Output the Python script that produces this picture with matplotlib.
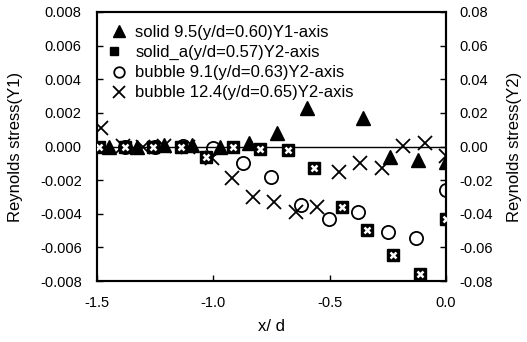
import matplotlib
matplotlib.use("Agg")
import matplotlib.pyplot as plt
from matplotlib.ticker import FormatStrFormatter, MultipleLocator
from matplotlib.legend_handler import HandlerTuple

plt.rcParams["font.family"] = ["Liberation Sans", "DejaVu Sans"]

# solid 9.5 (Y1 axis)
tri_x = [-1.45, -1.33, -1.21, -1.09, -0.97, -0.847, -0.726, -0.598, -0.357, -0.241, -0.12, 0.0]
tri_y = [0.0, 0.0, 0.0001, 0.0001, 0.0, 0.0002, 0.0008, 0.0023, 0.0017, -0.00065, -0.0008, -0.0009]

# solid_a (Y2 axis)
sq_x = [-1.49, -1.38, -1.26, -1.14, -1.03, -0.916, -0.80, -0.68, -0.567, -0.447, -0.34, -0.228, -0.112, 0.0]
sq_y = [-0.0003, 0.0, -0.0002, -0.0002, -0.006, 0.0, -0.0015, -0.002, -0.013, -0.036, -0.0496, -0.0645, -0.0758, -0.043]

# bubble 9.1 (Y2 axis)
ci_x = [-1.38, -1.25, -1.13, -1.0, -0.873, -0.752, -0.623, -0.503, -0.378, -0.25, -0.129, 0.0]
ci_y = [0.0, 0.0, 0.0005, -0.0006, -0.0095, -0.018, -0.0346, -0.043, -0.039, -0.0507, -0.0543, -0.0257]

# bubble 12.4 (Y2 axis)
cr_x = [-1.483, -1.39, -1.30, -1.21, -1.11, -1.006, -0.92, -0.83, -0.74, -0.645, -0.555, -0.46, -0.37, -0.275, -0.185, -0.09, 0.0]
cr_y = [0.011, 0.0005, 0.0, 0.0005, 0.0, -0.0066, -0.0185, -0.030, -0.033, -0.039, -0.036, -0.015, -0.010, -0.0125, 0.0006, 0.002, -0.0055]

fig = plt.figure(figsize=(5.27, 3.42), dpi=100)
ax = fig.add_axes([0.184, 0.178, 0.662, 0.787])
ax2 = ax.twinx()

ax.axhline(0, color="black", lw=1.0, zorder=1)

h_tri, = ax.plot(tri_x, tri_y, "^", color="black", ms=10, ls="none", zorder=3)
h_sq1, = ax2.plot(sq_x, sq_y, "s", color="black", ms=8, ls="none", zorder=3)
h_sq2, = ax2.plot(sq_x, sq_y, "x", color="white", ms=4.5, mew=1.8, ls="none", zorder=4)
h_ci, = ax2.plot(ci_x, ci_y, "o", mfc="none", mec="black", mew=1.3, ms=9.5, ls="none", zorder=3)
h_cr, = ax2.plot(cr_x, cr_y, "x", color="black", mew=1.3, ms=10, ls="none", zorder=3)

ax.set_xlim(-1.5, 0.0)
ax.set_ylim(-0.008, 0.008)
ax2.set_ylim(-0.08, 0.08)
ax.xaxis.set_major_locator(MultipleLocator(0.5))
ax.yaxis.set_major_locator(MultipleLocator(0.002))
ax2.yaxis.set_major_locator(MultipleLocator(0.02))
ax.xaxis.set_major_formatter(FormatStrFormatter("%.1f"))
ax.yaxis.set_major_formatter(FormatStrFormatter("%.3f"))
ax2.yaxis.set_major_formatter(FormatStrFormatter("%.2f"))

ax.tick_params(axis="y", direction="in", labelsize=10.5, length=4, width=1, pad=11)
ax.tick_params(axis="x", direction="in", labelsize=10.5, length=4, width=1, pad=11)
ax2.tick_params(direction="in", labelsize=10.5, length=4, width=1, pad=10)
for a in (ax, ax2):
    for s in a.spines.values():
        s.set_linewidth(1.5)

ax.set_xlabel("x/ d", fontsize=12, labelpad=6)
ax.set_ylabel("Reynolds stress(Y1)", fontsize=12, labelpad=12)
ax2.set_ylabel("Reynolds stress(Y2)", fontsize=12, labelpad=10)

ax2.legend([h_tri, (h_sq1, h_sq2), h_ci, h_cr],
           ["solid 9.5(y/d=0.60)Y1-axis", "solid_a(y/d=0.57)Y2-axis",
            "bubble 9.1(y/d=0.63)Y2-axis", "bubble 12.4(y/d=0.65)Y2-axis"],
           handler_map={tuple: HandlerTuple(ndivide=None, pad=0)},
           loc="upper left", frameon=False, fontsize=12, handlelength=1.0,
           handletextpad=0.5, labelspacing=0.3, borderaxespad=0.4,
           markerscale=0.8)

fig.savefig("out.png", dpi=100)
